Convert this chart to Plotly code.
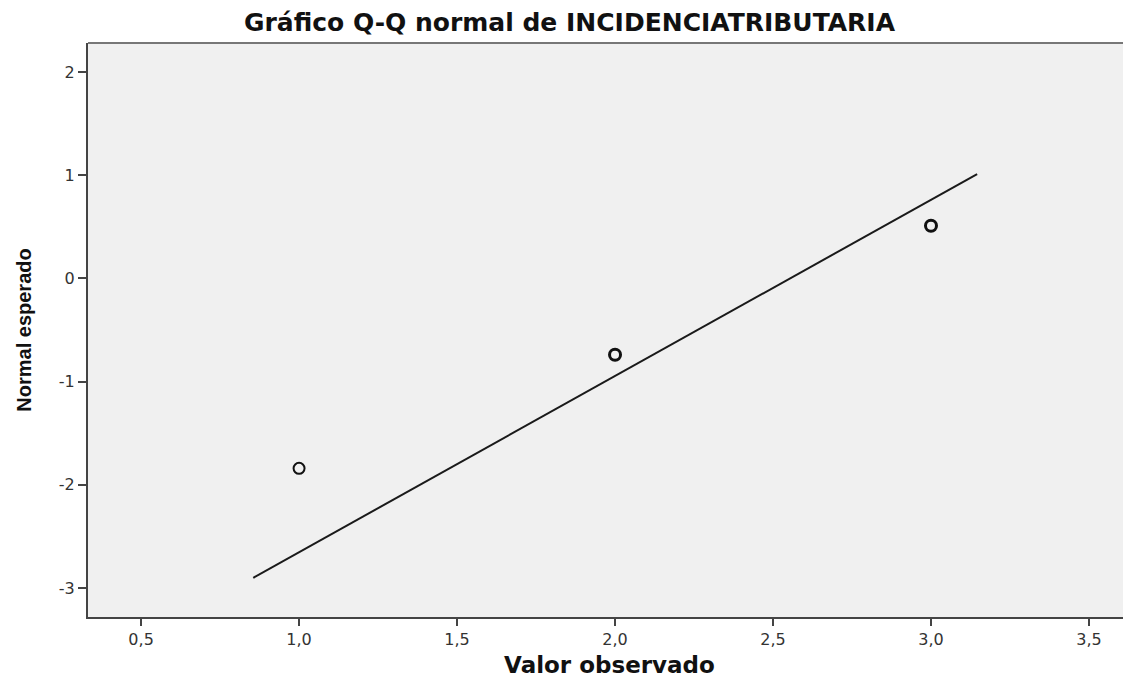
import plotly.graph_objs as go

# observed values vs expected normal quantiles
obs_x = [1.0, 2.0, 3.0]
exp_y = [-1.84, -0.74, 0.51]

# reference line (ends)
line_x = [0.855, 3.146]
line_y = [-2.90, 1.01]

x_ticks = [0.5, 1.0, 1.5, 2.0, 2.5, 3.0, 3.5]
x_labels = ["0,5", "1,0", "1,5", "2,0", "2,5", "3,0", "3,5"]
y_ticks = [-3, -2, -1, 0, 1, 2]
y_labels = ["-3", "-2", "-1", "0", "1", "2"]

fig = go.Figure()

fig.add_trace(go.Scatter(
    x=line_x, y=line_y, mode="lines",
    line=dict(color="#1a1a1a", width=2),
    hoverinfo="skip", showlegend=False
))

fig.add_trace(go.Scatter(
    x=obs_x, y=exp_y, mode="markers",
    marker=dict(symbol="circle-open", size=11, color="#111111",
                line=dict(color="#111111", width=[2, 3, 3])),
    showlegend=False
))

# top border of the plot frame
fig.add_shape(type="line", xref="paper", yref="paper", x0=0, x1=1, y0=1, y1=1,
              line=dict(color="#777777", width=2))

# the page body adds ~8px margin, so the figure is 8px smaller than the window
fig.update_layout(
    width=1123, height=670,
    margin=dict(l=80, r=0, t=35, b=61),
    paper_bgcolor="white",
    plot_bgcolor="#f0f0f0",
    font=dict(family="Liberation Sans, Arial, sans-serif", color="#333333"),
    title=dict(text="<b>Gráfico Q-Q normal de INCIDENCIATRIBUTARIA</b>",
               x=0.5, xref="container", y=0.979, yanchor="middle",
               font=dict(family="DejaVu Sans, sans-serif", size=25, color="#111111")),
    xaxis=dict(
        range=[0.332, 3.633],
        tickvals=x_ticks, ticktext=x_labels,
        ticks="outside", ticklen=7, tickwidth=2, tickcolor="#444444",
        tickfont=dict(family="DejaVu Sans, sans-serif", size=16, color="#333333"),
        showgrid=False, zeroline=False,
        showline=True, linecolor="#444444", linewidth=2,
        title=dict(text="<b>Valor observado</b>", standoff=10,
                   font=dict(family="DejaVu Sans, sans-serif", size=23, color="#111111")),
    ),
    yaxis=dict(
        range=[-3.28, 2.28],
        tickvals=y_ticks, ticktext=y_labels,
        ticks="outside", ticklen=8, tickwidth=2, tickcolor="#444444",
        tickfont=dict(family="DejaVu Sans, sans-serif", size=16, color="#333333"),
        showgrid=False, zeroline=False,
        showline=True, linecolor="#444444", linewidth=2,
        title=dict(text="<b>Normal esperado</b>", standoff=22,
                   font=dict(size=20, color="#111111")),
    ),
)

fig.write_html("out.html")
